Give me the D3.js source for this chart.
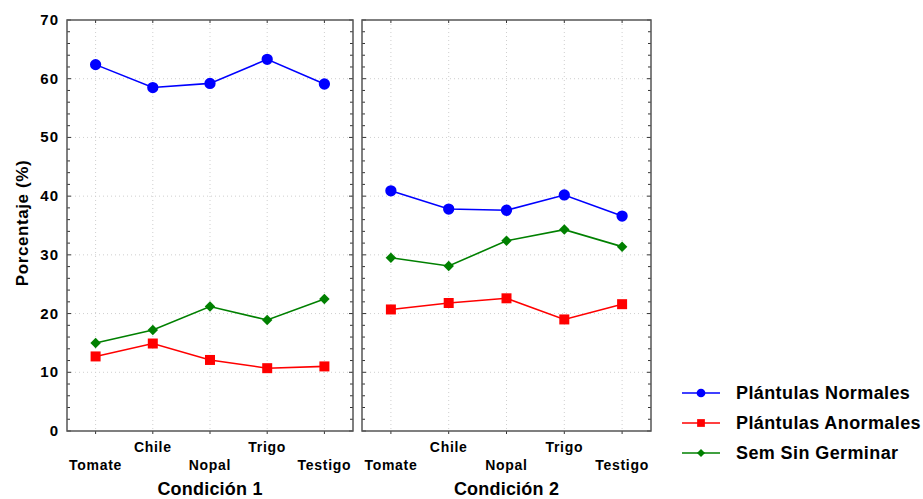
<!DOCTYPE html>
<html><head><meta charset="utf-8">
<script src="https://cdn.jsdelivr.net/npm/d3@7"></script>
<style>body{margin:0;background:#fff}text{font-family:"Liberation Sans",Arial,sans-serif;font-weight:bold;fill:#000}</style>
</head><body><svg id="c" width="923" height="499"></svg>
<script>
const categories = ["Tomate","Chile","Nopal","Trigo","Testigo"];
const panels = ["Condición 1","Condición 2"];
const seriesNames = ["Plántulas Normales","Plántulas Anormales","Sem Sin Germinar"];
const normales1 = [62.4,58.5,59.2,63.3,59.1];
const anormales1 = [12.7,14.9,12.1,10.7,11.0];
const sinGerm1 = [15.0,17.2,21.2,18.9,22.5];
const normales2 = [40.9,37.8,37.6,40.2,36.6];
const anormales2 = [20.7,21.8,22.6,19.0,21.6];
const sinGerm2 = [29.5,28.1,32.4,34.3,31.4];
const yTicks = [0,10,20,30,40,50,60,70];

const colors = ["#0000ff","#ff0000","#008000"];
const shapes = [d3.symbolCircle,d3.symbolSquare,d3.symbolSquare];
const sizes = [100,100,55];
const rot = [0,0,45];
const data = [[normales1,anormales1,sinGerm1],[normales2,anormales2,sinGerm2]];

const svg = d3.select("#c");
const plotTop = 20, plotBottom = 431;
const y = d3.scaleLinear().domain([0,70]).range([plotBottom,plotTop]);
const panelX = [[67,353],[362,651]];

panelX.forEach((px,pi)=>{
  const x = d3.scalePoint().domain(categories).range(px).padding(0.5);
  const g = svg.append("g");
  g.selectAll(null).data(yTicks.slice(1,-1)).enter().append("line")
    .attr("x1",px[0]).attr("x2",px[1]).attr("y1",d=>y(d)).attr("y2",d=>y(d))
    .attr("stroke","#cfcfcf").attr("stroke-dasharray","1,3");
  g.selectAll(null).data(categories).enter().append("line")
    .attr("x1",d=>x(d)).attr("x2",d=>x(d)).attr("y1",plotTop).attr("y2",plotBottom)
    .attr("stroke","#cfcfcf").attr("stroke-dasharray","1,3");
  const minor = d3.range(0,71,2);
  [px[0],px[1]].forEach((ax,si)=>{
    g.selectAll(null).data(minor).enter().append("line")
      .attr("x1",ax).attr("x2",d=>ax+(si===0?1:-1)*(d%10===0?4:3))
      .attr("y1",d=>y(d)).attr("y2",d=>y(d)).attr("stroke","#333").attr("stroke-width",1);
  });
  g.selectAll(null).data(categories).enter().append("line")
    .attr("x1",d=>x(d)).attr("x2",d=>x(d)).attr("y1",plotTop).attr("y2",plotTop+3).attr("stroke","#333");
  g.selectAll(null).data(categories).enter().append("line")
    .attr("x1",d=>x(d)).attr("x2",d=>x(d)).attr("y1",plotBottom).attr("y2",plotBottom+3).attr("stroke","#333");
  g.append("rect").attr("x",px[0]).attr("y",plotTop).attr("width",px[1]-px[0]).attr("height",plotBottom-plotTop)
    .attr("fill","none").attr("stroke","#555").attr("stroke-width",1.5);
  g.selectAll(null).data(categories).enter().append("text")
    .attr("x",d=>x(d)).attr("y",(d,i)=> i%2===1 ? 452 : 470)
    .attr("text-anchor","middle").attr("font-size",14).attr("letter-spacing",0.7).text(d=>d);
  g.append("text").attr("x",(px[0]+px[1])/2).attr("y",495).attr("text-anchor","middle")
    .attr("font-size",18).attr("letter-spacing",0.2).text(panels[pi]);
  data[pi].forEach((vals,si)=>{
    const line = d3.line().x((d,i)=>x(categories[i])).y(d=>y(d));
    g.append("path").datum(vals).attr("d",line).attr("fill","none")
      .attr("stroke",colors[si]).attr("stroke-width",1.6);
    g.selectAll(null).data(vals).enter().append("path")
      .attr("d",d3.symbol().type(shapes[si]).size(sizes[si]))
      .attr("transform",(d,i)=>`translate(${x(categories[i])},${y(d)}) rotate(${rot[si]})`)
      .attr("fill",colors[si]);
  });
});

svg.selectAll(null).data(yTicks).enter().append("text")
  .attr("x",59).attr("y",d=>y(d)+5).attr("text-anchor","end").attr("font-size",15).attr("letter-spacing",1).text(d=>d);
svg.append("text").attr("transform","translate(28,223) rotate(-90)").attr("text-anchor","middle")
  .attr("font-size",17).attr("letter-spacing",0.6).text("Porcentaje (%)");

seriesNames.forEach((n,i)=>{
  const ly = 393 + i*30;
  svg.append("line").attr("x1",682).attr("x2",720).attr("y1",ly).attr("y2",ly)
    .attr("stroke",colors[i]).attr("stroke-width",1.6);
  svg.append("path").attr("d",d3.symbol().type(shapes[i]).size(sizes[i]*0.6))
    .attr("transform",`translate(701,${ly}) rotate(${rot[i]})`).attr("fill",colors[i]);
  svg.append("text").attr("x",736).attr("y",ly+6).attr("font-size",18).attr("letter-spacing",0.4).text(n);
});
</script></body></html>
